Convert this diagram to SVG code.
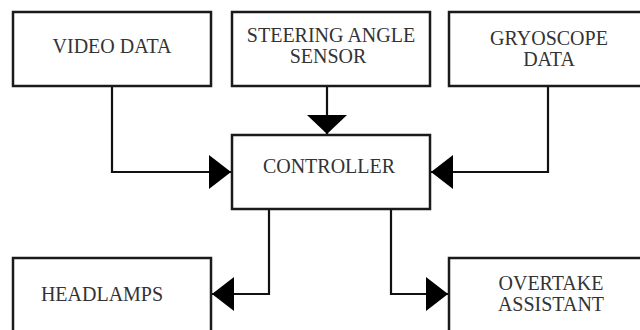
<svg xmlns="http://www.w3.org/2000/svg" width="640" height="330" viewBox="0 0 640 330">
<style>
.box{fill:#fff;stroke:#1a1a1a;stroke-width:2.5}
.lbl{font-family:"Liberation Serif","Times New Roman",serif;font-size:20px;fill:#333;text-anchor:middle}
.con{fill:none;stroke:#111;stroke-width:2.2}
</style>
<defs>
<marker id="ah" markerUnits="userSpaceOnUse" markerWidth="23" markerHeight="34" refX="22" refY="17" orient="auto" overflow="visible">
<path d="M0,0 L22,17 L0,34 z" fill="#000"/>
</marker>
<marker id="ahs" markerUnits="userSpaceOnUse" markerWidth="20" markerHeight="40" refX="19" refY="20" orient="auto" overflow="visible">
<path d="M0,0 L19,20 L0,40 z" fill="#000"/>
</marker>
</defs>
<rect width="640" height="330" fill="#fff"/>
<g id="connectors">
<path class="con" d="M112,86 V172 H231" marker-end="url(#ah)"/>
<path class="con" d="M548,86 V172 H431" marker-end="url(#ah)"/>
<path class="con" d="M327,86 V134" marker-end="url(#ahs)"/>
<path class="con" d="M269,209 V294 H212" marker-end="url(#ah)"/>
<path class="con" d="M391,209 V294 H448" marker-end="url(#ah)"/>
</g>
<g id="video">
<rect class="box" x="13" y="12" width="198" height="74"/>
<text class="lbl" x="112" y="53">VIDEO DATA</text>
</g>
<g id="steering">
<rect class="box" x="232" y="12" width="198" height="74"/>
<text class="lbl" x="331" y="42">STEERING ANGLE</text>
<text class="lbl" x="328" y="63">SENSOR</text>
</g>
<g id="gyroscope">
<rect class="box" x="449" y="12" width="200" height="74"/>
<text class="lbl" x="549" y="45">GRYOSCOPE</text>
<text class="lbl" x="549" y="66">DATA</text>
</g>
<g id="controller">
<rect class="box" x="232" y="135" width="198" height="74"/>
<text class="lbl" x="329" y="173">CONTROLLER</text>
</g>
<g id="headlamps">
<rect class="box" x="13" y="258" width="198" height="80"/>
<text class="lbl" x="102" y="301">HEADLAMPS</text>
</g>
<g id="overtake">
<rect class="box" x="449" y="258" width="200" height="80"/>
<text class="lbl" x="551" y="290">OVERTAKE</text>
<text class="lbl" x="551" y="311">ASSISTANT</text>
</g>
</svg>
